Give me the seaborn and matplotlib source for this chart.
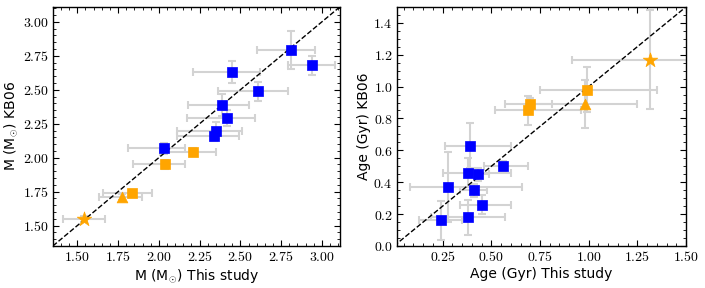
import numpy as np
import pandas as pd
import seaborn as sns
import matplotlib
matplotlib.use("Agg")
import matplotlib.pyplot as plt
from matplotlib.ticker import AutoMinorLocator, MultipleLocator, FuncFormatter

# ---- mass panel: this study vs KB06 ----
mass_ours = [2.81, 2.94, 2.45, 2.61, 2.39, 2.42, 2.35, 2.34, 2.03,
             2.21, 2.04, 1.835, 1.775, 1.54]
mass_ours_lo = [0.21, 0.15, 0.24, 0.25, 0.21, 0.25, 0.24, 0.23, 0.22,
                0.20, 0.20, 0.18, 0.14, 0.13]
mass_ours_hi = [0.15, 0.14, 0.17, 0.18, 0.16, 0.17, 0.16, 0.15, 0.13,
                0.14, 0.12, 0.12, 0.12, 0.13]
mass_kb06 = [2.79, 2.68, 2.63, 2.49, 2.39, 2.29, 2.20, 2.16, 2.07,
             2.04, 1.95, 1.74, 1.71, 1.55]
mass_kb06_err = [0.14, 0.07, 0.08, 0.07, 0.08, 0.06, 0.06, 0.04, 0.04,
                 0.03, 0.03, 0.02, 0.02, 0.02]
mass_kind = ["blue"] * 9 + ["sq", "sq", "sq", "tri", "star"]

# ---- age panel ----
age_ours = [1.315, 0.99, 0.98, 0.70, 0.69,
            0.39, 0.56, 0.38, 0.43, 0.28, 0.41, 0.45, 0.38, 0.24]
age_ours_lo = [0.40, 0.24, 0.27, 0.13, 0.17,
               0.13, 0.10, 0.13, 0.06, 0.20, 0.07, 0.11, 0.19, 0.11]
age_ours_hi = [0.40, 0.36, 0.27, 0.11, 0.27,
               0.21, 0.13, 0.22, 0.06, 0.38, 0.07, 0.15, 0.19, 0.11]
age_kb06 = [1.17, 0.98, 0.89, 0.89, 0.85,
            0.63, 0.50, 0.46, 0.45, 0.37, 0.35, 0.26, 0.18, 0.16]
age_kb06_err = [0.31, 0.14, 0.15, 0.04, 0.09,
                0.14, 0.03, 0.09, 0.04, 0.22, 0.04, 0.06, 0.11, 0.12]
age_kind = ["star", "sq", "tri", "sq", "sq"] + ["blue"] * 9

colors = {"blue": "#0000ff", "sq": "orange", "tri": "orange", "star": "orange"}
markers = {"blue": "s", "sq": "s", "tri": "^", "star": "*"}
sizes = {"blue": 56, "sq": 56, "tri": 60, "star": 120}

sns.set_style("ticks")
plt.rcParams["mathtext.fontset"] = "cm"
plt.rcParams["font.family"] = ["DejaVu Sans"]
plt.rcParams["text.color"] = "black"
plt.rcParams["axes.labelcolor"] = "black"
plt.rcParams["xtick.color"] = "black"
plt.rcParams["ytick.color"] = "black"

fig = plt.figure(figsize=(7.05, 2.88), dpi=100)
ax1 = fig.add_axes([0.075, 0.146, 0.407, 0.83])
ax2 = fig.add_axes([0.563, 0.146, 0.410, 0.83])


def panel(ax, x, xlo, xhi, y, yerr, kind, lims):
    df = pd.DataFrame({"x": x, "y": y, "kind": kind})
    ax.errorbar(x, y, xerr=[xlo, xhi], yerr=yerr, fmt="none",
                ecolor="#d3d3d3", elinewidth=1.5, capsize=3, capthick=1.5,
                zorder=1)
    ax.plot(lims, lims, ls="--", color="black", lw=1, zorder=2)
    for k in ["blue", "sq", "tri", "star"]:
        sub = df[df["kind"] == k]
        sns.scatterplot(data=sub, x="x", y="y", ax=ax, color=colors[k],
                        marker=markers[k], s=sizes[k], edgecolor=colors[k],
                        linewidth=0.5, zorder=3, legend=False)
    ax.set_xlim(lims)
    ax.set_ylim(lims)
    ax.tick_params(which="both", direction="in", top=True, right=True,
                   labelsize=10, colors="black", pad=3)
    ax.tick_params(which="major", length=4, width=0.8)
    ax.tick_params(which="minor", length=2, width=0.6)
    for s in ax.spines.values():
        s.set_linewidth(1.0)
        s.set_color("black")


panel(ax1, mass_ours, mass_ours_lo, mass_ours_hi, mass_kb06, mass_kb06_err,
      mass_kind, (1.35, 3.11))
ax1.xaxis.set_major_locator(MultipleLocator(0.25))
ax1.yaxis.set_major_locator(MultipleLocator(0.25))
ax1.xaxis.set_minor_locator(AutoMinorLocator(5))
ax1.yaxis.set_minor_locator(AutoMinorLocator(5))
fmt2 = FuncFormatter(lambda v, p: f"${v:.2f}$")
ax1.xaxis.set_major_formatter(fmt2)
ax1.yaxis.set_major_formatter(fmt2)
ax1.set_xlabel(r"M (M$_{\odot}$) This study", fontsize=10, labelpad=2)
ax1.set_ylabel(r"M (M$_{\odot}$) KB06", fontsize=10, labelpad=2)

panel(ax2, age_ours, age_ours_lo, age_ours_hi, age_kb06, age_kb06_err,
      age_kind, (0.0, 1.5))
ax2.set_xlim(0.015, 1.5)
ax2.xaxis.set_major_locator(MultipleLocator(0.25))
ax2.yaxis.set_major_locator(MultipleLocator(0.2))
ax2.xaxis.set_minor_locator(AutoMinorLocator(5))
ax2.yaxis.set_minor_locator(AutoMinorLocator(4))
ax2.xaxis.set_major_formatter(fmt2)
ax2.yaxis.set_major_formatter(FuncFormatter(lambda v, p: f"${v:.1f}$"))
ax2.set_xlabel("Age (Gyr) This study", fontsize=10, labelpad=2)
ax2.set_ylabel("Age (Gyr) KB06", fontsize=10, labelpad=2)

fig.savefig("out.png", dpi=100)
